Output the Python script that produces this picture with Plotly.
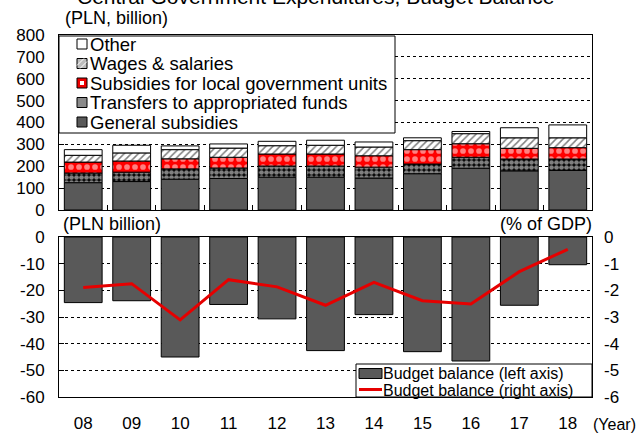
import plotly.graph_objects as go

years = ["08", "09", "10", "11", "12", "13", "14", "15", "16", "17", "18"]
general_subsidies = [125, 130, 141, 144, 150, 150, 146, 166, 191, 179, 181]
transfers_funds = [44, 43, 47, 48, 51, 51, 50, 44, 50, 54, 52]
subsidies_local = [50, 51, 46, 49, 55, 55, 52, 66, 62, 49, 52]
wages_salaries = [31, 37, 42, 42, 38, 40, 40, 41, 46, 48, 45]
other = [26, 35, 17, 19, 20, 23, 23, 13, 10, 46, 59]

balance_pln = [-24.6, -23.9, -45.0, -25.3, -30.7, -42.6, -29.1, -43.0, -46.5, -25.6, -10.4]
balance_gdp = [-1.89, -1.75, -3.11, -1.60, -1.87, -2.56, -1.70, -2.39, -2.51, -1.30, -0.46]

top_ticks = [0, 100, 200, 300, 400, 500, 600, 700, 800]
left_ticks = [0, -10, -20, -30, -40, -50, -60]
right_ticks = [0, -1, -2, -3, -4, -5, -6]

FONT = "Liberation Sans, Arial, sans-serif"
W, H = 639, 435
ML, MR, MT, MB = 59, 47, 35, 38
PW, PH = W - ML - MR, H - MT - MB

def px(x):
    return (x - ML) / PW

def py(y):
    return (H - MB - y) / PH

idx = list(range(len(years)))
bounds = [i + 0.5 for i in idx[:-1]]
xr = [-0.5, len(years) - 0.5]

fig = go.Figure()
line_style = dict(color="black", width=1)

fig.add_trace(go.Bar(x=idx, y=general_subsidies, name="General subsidies",
                     marker=dict(color="#595959", line=line_style),
                     xaxis="x", yaxis="y"))
fig.add_trace(go.Bar(x=idx, y=transfers_funds, name="Transfers to appropriated funds",
                     marker=dict(color="black", line=line_style,
                                 pattern=dict(shape=".", fgcolor="white", bgcolor="black",
                                              size=5, solidity=0.7)),
                     xaxis="x", yaxis="y"))
fig.add_trace(go.Bar(x=idx, y=subsidies_local, name="Subsidies for local government units",
                     marker=dict(color="#ff0000", line=line_style,
                                 pattern=dict(shape=".", fgcolor="white", bgcolor="#ff0000",
                                              size=8, solidity=0.4)),
                     xaxis="x", yaxis="y"))
fig.add_trace(go.Bar(x=idx, y=wages_salaries, name="Wages & salaries",
                     marker=dict(color="white", line=line_style,
                                 pattern=dict(shape="/", fgcolor="black", bgcolor="white",
                                              size=5, solidity=0.3)),
                     xaxis="x", yaxis="y"))
fig.add_trace(go.Bar(x=idx, y=other, name="Other",
                     marker=dict(color="white", line=line_style),
                     xaxis="x", yaxis="y"))

fig.add_trace(go.Bar(x=idx, y=balance_pln, name="Budget balance (left axis)",
                     marker=dict(color="#595959", line=line_style),
                     xaxis="x2", yaxis="y2"))
fig.add_trace(go.Scatter(x=idx, y=balance_gdp, name="Budget balance (right axis)",
                         mode="lines", line=dict(color="#e60000", width=3),
                         xaxis="x2", yaxis="y3"))

top_bottom = py(210)
bot_top = py(237)

grid = dict(showgrid=True, gridcolor="black", griddash="dot", gridwidth=1)
fig.update_layout(
    width=W, height=H,
    margin=dict(l=ML, r=MR, t=MT, b=MB),
    paper_bgcolor="white", plot_bgcolor="white",
    font=dict(family=FONT, size=17, color="black"),
    barmode="relative", bargap=0.22, showlegend=False,
    xaxis=dict(domain=[0, 1], anchor="y", range=xr, tickmode="array", tickvals=bounds,
               ticks="inside", ticklen=5, tickcolor="black", showticklabels=False,
               showline=True, linecolor="black", mirror=True, showgrid=False,
               zeroline=False, automargin=False),
    yaxis=dict(domain=[top_bottom, 1], anchor="x", range=[0, 800], tickmode="array",
               tickvals=top_ticks, ticktext=[str(v) for v in top_ticks],
               ticks="inside", ticklen=5, tickcolor="black", showline=True, linecolor="black",
               mirror=True, zeroline=False, ticklabelstandoff=10, automargin=False, **grid),
    xaxis2=dict(domain=[0, 1], anchor="y2", range=xr, tickmode="array", tickvals=idx,
                ticktext=years, ticks="", showline=True, linecolor="black", mirror=True,
                showgrid=False, zeroline=False, ticklabelstandoff=11, automargin=False),
    xaxis3=dict(overlaying="x2", anchor="y2", side="top", range=xr, tickmode="array",
                tickvals=bounds, ticks="inside", ticklen=5, tickcolor="black",
                showticklabels=False, showline=False, showgrid=False, zeroline=False,
                automargin=False),
    yaxis2=dict(domain=[0, bot_top], anchor="x2", range=[-60, 0], tickmode="array",
                tickvals=left_ticks, ticktext=[str(v) for v in left_ticks],
                ticks="inside", ticklen=5, tickcolor="black", showline=True, linecolor="black",
                mirror=True, zeroline=False, ticklabelstandoff=10, automargin=False, **grid),
    yaxis3=dict(overlaying="y2", anchor="x2", side="right", range=[-6, 0], tickmode="array",
                tickvals=right_ticks, ticktext=[str(v) for v in right_ticks],
                ticks="", showgrid=False, zeroline=False, showline=False,
                ticklabelstandoff=11, automargin=False),
)

# ---- manual legends (layout only) ----
shapes = []
anns = []
shapes.append(dict(type="rect", xref="paper", yref="paper", x0=px(59), x1=px(395),
                   y0=py(133), y1=py(36), line=dict(color="black", width=1),
                   fillcolor="white", layer="above"))
legend_items = [
    ("Other", dict(fillcolor="white")),
    ("Wages & salaries", dict(fillcolor="#bdbdbd")),
    ("Subsidies for local government units", dict(fillcolor="#ee0000")),
    ("Transfers to appropriated funds", dict(fillcolor="#8a8a8a")),
    ("General subsidies", dict(fillcolor="#595959")),
]
row_y = [44, 63.5, 83, 102.5, 122]
for (label, fill), yc in zip(legend_items, row_y):
    shapes.append(dict(type="rect", xref="paper", yref="paper", x0=px(77), x1=px(87),
                       y0=py(yc + 5), y1=py(yc - 5), line=dict(color="black", width=1),
                       layer="above", **fill))
    anns.append(dict(text=label, x=px(88), y=py(yc), xref="paper", yref="paper",
                     xanchor="left", yanchor="middle", showarrow=False,
                     font=dict(size=18.5)))
shapes.append(dict(type="path", xref="paper", yref="paper", layer="above",
                   path="M %f %f L %f %f M %f %f L %f %f" % (
                       px(77), py(63.5 + 2), px(84), py(63.5 - 5),
                       px(80), py(63.5 + 5), px(87), py(63.5 - 2)),
                   line=dict(color="white", width=1)))
shapes.append(dict(type="rect", xref="paper", yref="paper", x0=px(80), x1=px(84),
                   y0=py(83 + 2), y1=py(83 - 2), line=dict(width=0),
                   fillcolor="white", layer="above"))

shapes.append(dict(type="rect", xref="paper", yref="paper", x0=px(356), x1=px(592),
                   y0=py(397), y1=py(364), line=dict(color="black", width=1),
                   fillcolor="white", layer="above"))
shapes.append(dict(type="rect", xref="paper", yref="paper", x0=px(359), x1=px(382),
                   y0=py(378.5), y1=py(368.5), line=dict(color="black", width=1),
                   fillcolor="#595959", layer="above"))
shapes.append(dict(type="line", xref="paper", yref="paper", x0=px(359), x1=px(382),
                   y0=py(389.5), y1=py(389.5), line=dict(color="#e60000", width=3),
                   layer="above"))
anns.append(dict(text="Budget balance (left axis)", x=px(382), y=py(373),
                 xref="paper", yref="paper", xanchor="left", yanchor="middle",
                 showarrow=False, borderpad=0, font=dict(size=16)))
anns.append(dict(text="Budget balance (right axis)", x=px(382), y=py(390),
                 xref="paper", yref="paper", xanchor="left", yanchor="middle",
                 showarrow=False, borderpad=0, font=dict(size=16)))

anns += [
    dict(text="Central Government Expenditures, Budget Balance", x=px(315), y=py(-4),
         xref="paper", yref="paper", xanchor="center", yanchor="middle",
         showarrow=False, font=dict(size=21)),
    dict(text="(PLN, billion)", x=px(63), y=py(18), xref="paper", yref="paper",
         xanchor="left", yanchor="middle", showarrow=False, font=dict(size=18)),
    dict(text="(PLN billion)", x=px(61), y=py(224), xref="paper", yref="paper",
         xanchor="left", yanchor="middle", showarrow=False, font=dict(size=18)),
    dict(text="(% of GDP)", x=px(594), y=py(224), xref="paper", yref="paper",
         xanchor="right", yanchor="middle", showarrow=False, font=dict(size=18)),
    dict(text="(Year)", x=px(637), y=py(424), xref="paper", yref="paper",
         xanchor="right", yanchor="middle", showarrow=False, borderpad=0,
         font=dict(size=16)),
]
fig.update_layout(shapes=shapes, annotations=anns)

fig.write_html("out.html")
